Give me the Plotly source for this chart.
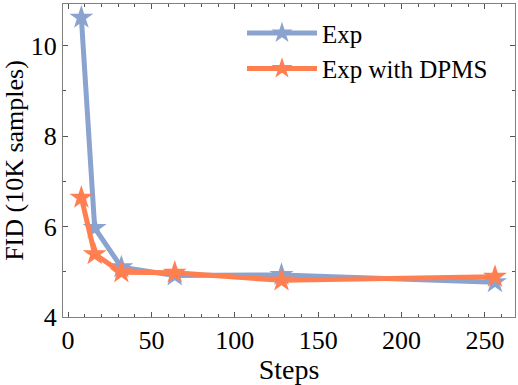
import plotly.graph_objects as go

steps = [8, 16, 32, 64, 128, 256]
fid_exp = [10.62, 5.97, 5.1, 4.92, 4.93, 4.77]
fid_dpms = [6.64, 5.39, 4.99, 4.98, 4.81, 4.89]

blue = "#8AA3CF"
orange = "#FF7F50"
font = "Liberation Serif"

fig = go.Figure()
fig.add_trace(go.Scatter(x=steps, y=fid_exp, name="Exp", mode="lines+markers",
                         line=dict(color=blue, width=5),
                         marker=dict(symbol="star", size=18, color=blue)))
fig.add_trace(go.Scatter(x=steps, y=fid_dpms, name="Exp with DPMS", mode="lines+markers",
                         line=dict(color=orange, width=5),
                         marker=dict(symbol="star", size=18, color=orange)))

axis_common = dict(showgrid=False, zeroline=False, mirror="allticks", ticks="inside",
                   showline=True, linecolor="#808080", linewidth=1,
                   tickcolor="#555555", ticklen=5, automargin=False,
                   tickfont=dict(family=font, size=26, color="black"))

fig.update_xaxes(range=[-3, 268], tickvals=[0, 50, 100, 150, 200, 250],
                 minor=dict(dtick=10, tick0=0, ticks="inside", ticklen=3, tickcolor="#555555"),
                 title=dict(text="Steps", font=dict(family=font, size=28, color="black"), standoff=0),
                 **axis_common)
fig.update_yaxes(range=[4, 10.92], tickvals=[4, 6, 8, 10],
                 minor=dict(dtick=1, tick0=4, ticks="inside", ticklen=3, tickcolor="#555555"),
                 title=dict(text="FID (10K samples)", font=dict(family=font, size=26, color="black"), standoff=6),
                 **axis_common)

fig.update_layout(width=518, height=385, plot_bgcolor="white", paper_bgcolor="white",
                  margin=dict(l=63, r=3, t=4, b=68),
                  legend=dict(x=0.396, y=0.98, xanchor="left", yanchor="top",
                              bgcolor="rgba(0,0,0,0)", tracegroupgap=0, itemwidth=70,
                              font=dict(family=font, size=25, color="black")))

# page body has a default 8px margin; drop it so the figure sits at the corner
fig.write_html("out.html", config={"displayModeBar": False},
               post_script="document.body.style.margin='0';")
